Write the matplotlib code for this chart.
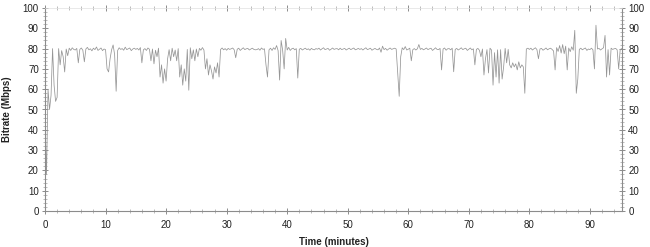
import numpy as np
import matplotlib
matplotlib.use("Agg")
import matplotlib.pyplot as plt
from matplotlib.ticker import MultipleLocator

plt.rcParams['font.family'] = ['Liberation Sans', 'DejaVu Sans']

step_minutes = 0.25
bitrate_rows = [
    [45, 18, 60, 50, 57, 80, 62, 54, 56, 80, 72, 79, 76, 68.5, 79.8, 76.5, 80.2, 79.1, 80.4, 79.6],
    [79.3, 80.1, 73, 79.6, 80.3, 79.2, 73.5, 79.8, 80.6, 79.4, 79.9, 78.9, 80.2, 79.5, 80.8, 79.1, 79.7, 80.3, 79.0, 79.8],
    [79.5, 70, 68.5, 75, 79.4, 81.8, 77, 59, 79.1, 80.4, 79.6, 80.0, 79.2, 80.7, 79.5, 79.9, 80.3, 79.0, 79.8, 80.2],
    [79.6, 80.1, 79.3, 80.5, 73, 79.4, 80.0, 79.1, 80.3, 79.7, 74, 79.8, 72.5, 79.2, 76, 80.2, 66, 72, 63, 70],
    [64, 75, 79.5, 74, 80.2, 76, 79.3, 74, 80.0, 66, 72, 62, 70, 64, 79.6, 59.5, 80.4, 75, 79.4, 74],
    [79.8, 76, 80.1, 79.2, 80.5, 79.3, 70, 75, 67, 72, 69, 65, 71, 68, 73, 66, 79.6, 80.3, 79.4, 80.0],
    [79.2, 80.1, 79.6, 79.9, 80.3, 79.4, 75.5, 79.7, 80.2, 79.1, 79.8, 80.4, 79.5, 79.9, 80.1, 79.3, 79.8, 80.2, 79.6, 79.4],
    [79.5, 80.0, 79.2, 80.3, 79.6, 79.9, 72, 66, 79.4, 80.2, 79.1, 80.4, 79.6, 81.5, 79.0, 64.5, 84, 79.2, 70, 85],
    [79.3, 80.6, 79.1, 79.9, 80.2, 79.4, 80.0, 65.5, 79.7, 80.1, 79.3, 79.8, 80.2, 79.5, 79.9, 79.2, 80.1, 79.6, 79.4, 80.0],
    [79.7, 80.2, 79.3, 79.9, 80.4, 79.5, 79.8, 80.1, 79.2, 79.7, 80.3, 79.6, 79.9, 80.0, 79.4, 80.2, 79.5, 79.8, 80.1, 79.3],
    [79.8, 80.2, 79.5, 79.9, 80.3, 79.4, 79.7, 80.1, 79.6, 80.0, 79.3, 79.9, 80.4, 79.5, 79.8, 80.2, 79.2, 79.7, 80.1, 79.6],
    [79.4, 80.3, 78.2, 81.2, 79.5, 80.1, 79.2, 79.8, 80.3, 79.6, 79.9, 80.2, 79.8, 68, 56.5, 76, 80.4, 79.5, 81.0, 79.3],
    [79.7, 80.2, 74, 79.5, 80.0, 79.3, 79.9, 82, 79.6, 80.1, 79.4, 79.8, 80.3, 79.5, 79.9, 80.2, 79.1, 79.7, 80.4, 79.6],
    [79.5, 80.1, 69.5, 79.8, 80.3, 79.2, 79.9, 80.0, 79.4, 80.2, 68.6, 79.6, 80.1, 79.3, 79.8, 80.4, 79.5, 79.9, 80.2, 79.1],
    [79.7, 80.3, 79.4, 79.9, 72, 79.6, 80.1, 79.2, 76, 79.8, 67, 75, 79.5, 68, 80.2, 79.3, 62, 78, 66, 79.4],
    [63, 79.5, 65, 71, 80.1, 73, 79.6, 72, 70.5, 73, 71, 72.5, 69.5, 73.5, 70.5, 72, 71, 58, 79.8, 80.2],
    [79.6, 80.2, 79.3, 79.9, 80.4, 79.5, 75, 79.8, 80.1, 79.2, 79.7, 80.3, 79.4, 79.9, 80.2, 79.6, 78.8, 69.5, 80.5, 78.6],
    [81.5, 77.8, 82, 77.5, 81.2, 69.5, 80.3, 78.5, 80.9, 79.2, 89, 58, 65, 79.6, 80.2, 79.4, 79.9, 80.3, 79.1, 79.8],
    [79.5, 80.2, 79.4, 70, 91.5, 79.8, 80.1, 79.3, 79.9, 80.4, 86.5, 66, 79.5, 67, 80.2, 79.6, 79.9, 80.1, 79.4, 70],
    [79.5, 80.0],
]
bitrate = [v for row in bitrate_rows for v in row]
time_min = [i * step_minutes for i in range(len(bitrate))]

x_ticks = [0, 10, 20, 30, 40, 50, 60, 70, 80, 90]
y_ticks = [0, 10, 20, 30, 40, 50, 60, 70, 80, 90, 100]

fig = plt.figure(figsize=(6.5, 2.47), dpi=100)
ax = fig.add_axes([45/650, 1-211/247, (622-45)/650, (211-8)/247])
ax.plot(time_min, bitrate, color='#959595', lw=0.55)

ax.set_xlim(0, 95.3)
ax.set_ylim(0, 100)
ax.set_xticks(x_ticks)
ax.set_yticks(y_ticks)
ax.xaxis.set_minor_locator(MultipleLocator(2))
ax.yaxis.set_minor_locator(MultipleLocator(2))

spine_c = '#8c8c8c'
for s in ['left', 'right', 'bottom']:
    ax.spines[s].set_color(spine_c)
    ax.spines[s].set_linewidth(0.8)
ax.spines['top'].set_color('#e0e0e0')
ax.spines['top'].set_linewidth(0.5)

ax.tick_params(axis='both', which='major', direction='inout', length=5, width=0.7,
               color=spine_c, labelsize=7, labelcolor='#222222', pad=2)
ax.tick_params(axis='both', which='minor', direction='inout', length=2.5, width=0.5, color='#a0a0a0')
ax.tick_params(axis='x', top=True, which='both')
ax.tick_params(axis='y', right=True, labelright=True, which='both')
ax.tick_params(axis='x', which='major', pad=4)

ax.set_xlabel('Time (minutes)', fontsize=7, fontweight='bold', color='#222222', labelpad=5)
ax.set_ylabel('Bitrate (Mbps)', fontsize=7, fontweight='bold', color='#222222', labelpad=8)

fig.savefig('out.png', dpi=100)
